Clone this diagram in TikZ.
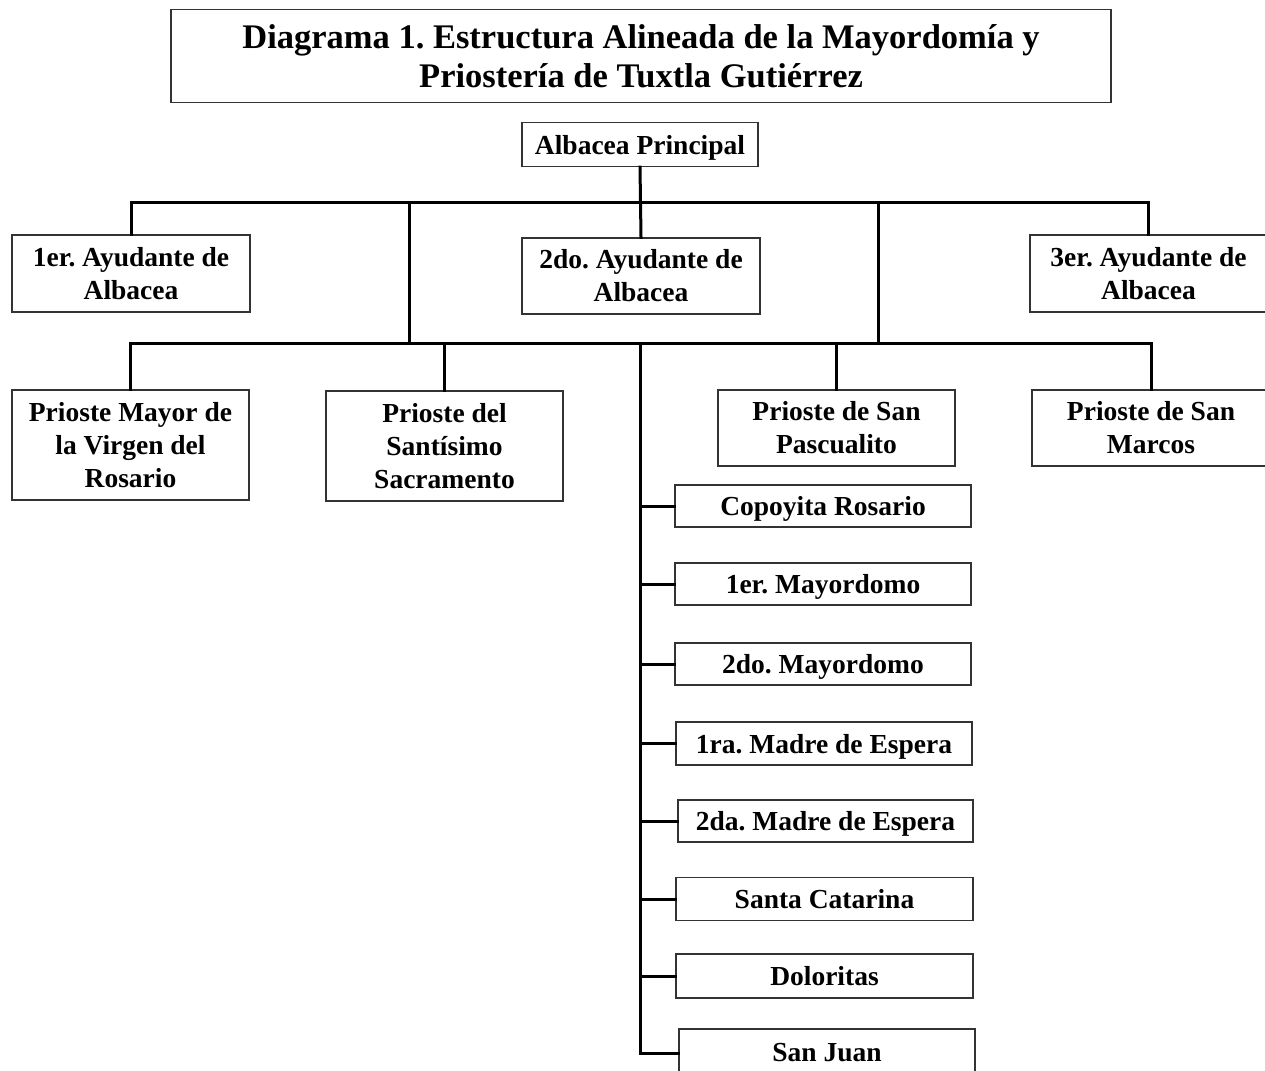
\documentclass[tikz,border=0pt]{standalone}
\usepackage{fontspec}
\setmainfont{Liberation Serif}
\begin{document}
\frenchspacing
\begin{tikzpicture}[x=1pt,y=-1pt,
  box/.style={draw=black!80,line width=1.2pt,inner sep=0pt,align=center,
    font=\fontsize{27.5}{33}\selectfont\bfseries},
  one/.style={box,text height=19pt,text depth=0pt},
  conn/.style={line width=3pt,line cap=rect}]
\useasboundingbox[fill=white] (0,0) rectangle (1265,1070);
% title
\node[box,minimum width=940pt,minimum height=93pt,font=\fontsize{34.5}{39}\selectfont\bfseries] (title) at (641,56)
  {Diagrama 1. Estructura Alineada de la Mayordomía y\\Priostería de Tuxtla Gutiérrez};
\node[one,minimum width=236pt,minimum height=44pt] (alb) at (640,144.5) {Albacea Principal};
\node[box,minimum width=238pt,minimum height=77pt] (a1) at (131,273.5) {1er. Ayudante de\\Albacea};
\node[box,minimum width=238pt,minimum height=76pt] (a2) at (641,276) {2do. Ayudante de\\Albacea};
\node[box,minimum width=237pt,minimum height=77pt] (a3) at (1148.5,273.5) {3er. Ayudante de\\Albacea};
\node[box,minimum width=237pt,minimum height=110pt] (p1) at (130.5,445) {Prioste Mayor de\\la Virgen del\\Rosario};
\node[box,minimum width=237pt,minimum height=110pt] (p2) at (444.5,446) {Prioste del\\Santísimo\\Sacramento};
\node[box,minimum width=237pt,minimum height=76pt] (p3) at (836.5,428) {Prioste de San\\Pascualito};
\node[box,minimum width=238pt,minimum height=76pt] (p4) at (1151,428) {Prioste de San\\Marcos};
\node[one,minimum width=296pt,minimum height=42pt] (c1) at (823,506) {Copoyita Rosario};
\node[one,minimum width=296pt,minimum height=42pt] (c2) at (823,584) {1er. Mayordomo};
\node[one,minimum width=296pt,minimum height=42pt] (c3) at (823,664) {2do. Mayordomo};
\node[one,minimum width=296pt,minimum height=43pt] (c4) at (824,743.5) {1ra. Madre de Espera};
\node[one,minimum width=295pt,minimum height=42pt] (c5) at (825.5,821) {2da. Madre de Espera};
\node[one,minimum width=297pt,minimum height=43pt] (c6) at (824.5,899) {Santa Catarina};
\node[one,minimum width=297pt,minimum height=44pt] (c7) at (824.5,976) {Doloritas};
\node[one,minimum width=296pt,minimum height=46pt] (c8) at (827,1052) {San Juan};
% bus coordinates
\coordinate (b1) at (640,202);
\coordinate (b2) at (640,343);
\coordinate (d1) at (409,202);
\coordinate (d2) at (878,202);
\coordinate (vend) at (640,1053);
% connectors
\draw[conn] (alb.south) -- (a2.north);
\draw[conn] (a1.north) -- (a1.north |- b1) -| (a3.north);
\draw[conn] (d1) -- (d1 |- b2);
\draw[conn] (d2) -- (d2 |- b2);
\draw[conn] (p1.north) -- (p1.north |- b2) -| (p4.north);
\draw[conn] (p2.north) -- (p2.north |- b2);
\draw[conn] (p3.north) -- (p3.north |- b2);
\draw[conn] (b2) -- (vend) -- (c8.west |- vend);
\foreach \n in {c1,c2,c3,c4,c5,c6,c7}
  \draw[conn] (\n.west -| b2) -- (\n.west);
\end{tikzpicture}
\end{document}
